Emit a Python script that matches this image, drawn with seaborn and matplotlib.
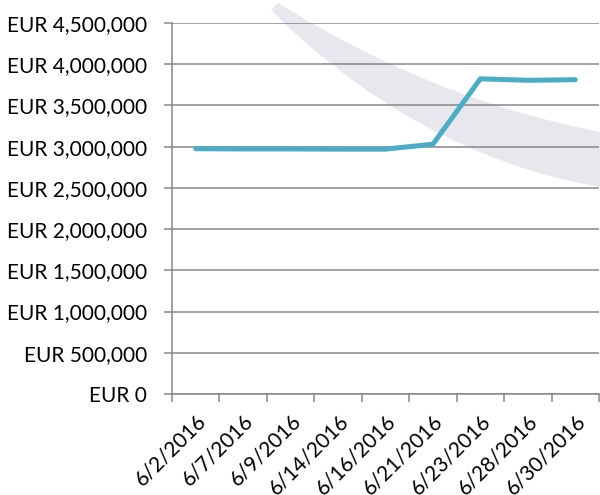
import matplotlib
matplotlib.use("Agg")
import matplotlib.pyplot as plt
from matplotlib.patches import PathPatch
from matplotlib.path import Path
from matplotlib.ticker import FuncFormatter, MultipleLocator
import seaborn as sns
import pandas as pd

dates = ["6/2/2016", "6/7/2016", "6/9/2016", "6/14/2016", "6/16/2016",
         "6/21/2016", "6/23/2016", "6/28/2016", "6/30/2016"]
values = [2975000, 2972000, 2972000, 2970000, 2970000,
          3030000, 3823000, 3805000, 3812000]

df = pd.DataFrame({"date": dates, "value": values})

sns.set_theme(style="white")
plt.rcParams["font.family"] = ["Lato", "DejaVu Sans"]

W, H = 600, 495
fig = plt.figure(figsize=(6, 4.95), dpi=100)
fig.patch.set_facecolor("white")

# decorative background swoosh (figure pixel coords, y from top)
swoosh = [(278, 3), (380, 66), (480, 108), (600, 132),
          (600, 187), (470, 165), (355, 95), (271, 10), (278, 3)]
codes = [Path.MOVETO, Path.CURVE4, Path.CURVE4, Path.CURVE4,
         Path.LINETO, Path.CURVE4, Path.CURVE4, Path.CURVE4, Path.CLOSEPOLY]
verts = [(x / W, 1 - y / H) for x, y in swoosh]
fig.patches.append(PathPatch(Path(verts, codes), transform=fig.transFigure,
                             facecolor="#e7e7ed", edgecolor="none", zorder=-5))

ax = fig.add_axes([172 / W, 1 - 394 / H, (599 - 172) / W, (394 - 23) / H])
ax.set_facecolor("none")
ax.set_zorder(1)

sns.lineplot(data=df, x="date", y="value", ax=ax, color="#4bacc6",
             linewidth=3.6, solid_capstyle="round", sort=False)

ax.set_xlim(-0.5, len(dates) - 0.5)
ax.set_ylim(0, 4500000)
ax.yaxis.set_major_locator(MultipleLocator(500000))
ax.yaxis.set_major_formatter(FuncFormatter(lambda v, p: f"EUR {int(v):,}"))

gc = "#878787"
ax.grid(axis="y", color=gc, linewidth=1.1)
ax.set_axisbelow(True)
for s in ["top", "right"]:
    ax.spines[s].set_visible(False)
for s in ["left", "bottom"]:
    ax.spines[s].set_color(gc)
    ax.spines[s].set_linewidth(1.1)

ax.set_xlabel("")
ax.set_ylabel("")

# x ticks at category boundaries
ax.set_xticks([i - 0.5 for i in range(len(dates) + 1)], minor=False)
ax.set_xticklabels([])
ax.set_xticks(range(len(dates)), minor=True)
ax.set_xticklabels(dates, minor=True, rotation=45, ha="right",
                   rotation_mode="anchor", fontsize=15, color="black")
ax.tick_params(axis="x", which="major", length=6, width=1.1, color=gc, bottom=True)
ax.tick_params(axis="x", which="minor", length=0, pad=12, bottom=True)
ax.tick_params(axis="y", length=6, width=1.1, color=gc, left=True, pad=12,
               labelsize=15, labelcolor="black")

fig.savefig("out.png", dpi=100)
